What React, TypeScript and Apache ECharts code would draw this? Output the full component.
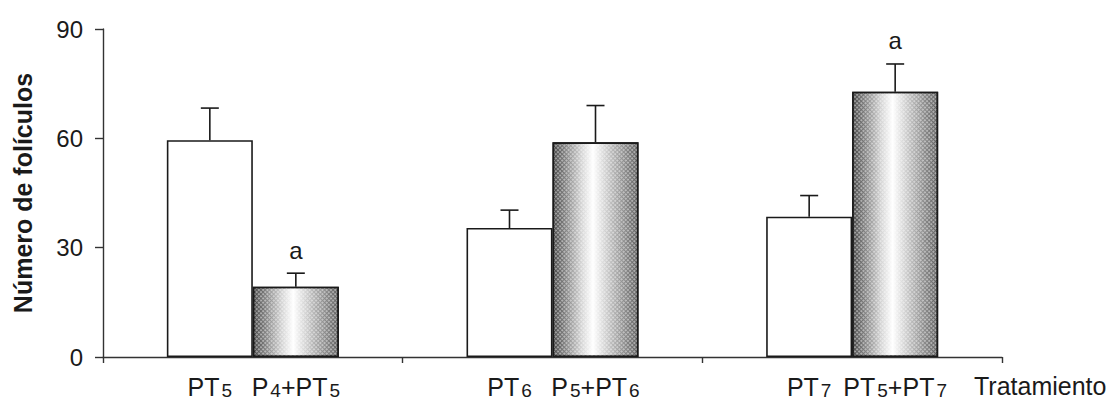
import React, { useEffect, useRef } from "react";
import * as echarts from "echarts";

// Treatment groups (one category per day of treatment)
const groups = ["d5", "d6", "d7"];
// Axis labels under each bar (rich-text subscripts)
const controlLabels = ["PT{s|5}", "PT{s|6}", "PT{s|7}"];
const treatedLabels = ["P{s|4}+PT{s|5}", "P{s|5}+PT{s|6}", "PT{s|5}+PT{s|7}"];
// Mean number of follicles and standard error
const controlMeans = [59.5, 35.4, 38.5];
const controlErrors = [8.8, 4.9, 5.8];
const treatedMeans = [19.3, 58.9, 72.8];
const treatedErrors = [3.7, 10.1, 7.6];
// Significance letters above the error bars
const controlMarks = ["", "", ""];
const treatedMarks = ["a", "", "a"];
// Y-axis range
const yMin = 0;
const yMax = 90;
const yStep = 30;

const FONT = '"Liberation Sans", Arial, Helvetica, sans-serif';
const INK = "#1a1a1a";
const BAR_W = 86;
const CAP_W = 18;

function errorSeries(means: number[], errors: number[], marks: string[], side: number) {
  return {
    type: "custom",
    z: 5,
    data: means.map((m, i) => [i, m, errors[i]]),
    renderItem: (params: any, api: any) => {
      const cat = api.value(0);
      const mean = api.value(1);
      const err = api.value(2);
      const base = api.coord([cat, mean]);
      const top = api.coord([cat, mean + err]);
      const x = base[0] + (side * BAR_W) / 2;
      const children: any[] = [
        {
          type: "line",
          shape: { x1: x, y1: base[1], x2: x, y2: top[1] },
          style: { stroke: INK, lineWidth: 1.6 },
        },
        {
          type: "line",
          shape: { x1: x - CAP_W / 2, y1: top[1], x2: x + CAP_W / 2, y2: top[1] },
          style: { stroke: INK, lineWidth: 1.6 },
        },
      ];
      const mark = marks[params.dataIndex];
      if (mark) {
        children.push({
          type: "text",
          style: {
            x,
            y: top[1] - 11,
            text: mark,
            fill: INK,
            font: `24px ${FONT}`,
            align: "center",
            verticalAlign: "bottom",
          },
        });
      }
      return { type: "group", children };
    },
  };
}

function barLabel(labels: string[]) {
  return {
    show: true,
    position: ["50%", "100%"],
    align: "center",
    verticalAlign: "top",
    offset: [0, 16],
    color: INK,
    fontSize: 25,
    lineHeight: 27,
    fontFamily: FONT,
    formatter: (p: any) => labels[p.dataIndex],
    rich: {
      s: {
        fontSize: 19,
        lineHeight: 19,
        fontFamily: FONT,
        color: INK,
        verticalAlign: "bottom",
        padding: [8, 0, 0, 2],
      },
    },
  };
}

export default function App() {
  const ref = useRef<HTMLDivElement>(null);

  useEffect(() => {
    if (!ref.current) return;
    const chart = echarts.init(ref.current, null, { renderer: "svg" });

    // Cylinder-like shading for the treated bars
    const shade = new echarts.graphic.LinearGradient(0, 0, 1, 0, [
      { offset: 0, color: "#444444" },
      { offset: 0.12, color: "#767676" },
      { offset: 0.33, color: "#d2d2d2" },
      { offset: 0.47, color: "#ffffff" },
      { offset: 0.62, color: "#d0d0d0" },
      { offset: 0.85, color: "#888888" },
      { offset: 1, color: "#5e5e5e" },
    ]);

    chart.setOption({
      animation: false,
      backgroundColor: "#ffffff",
      grid: { left: 103, right: 112, top: 29, bottom: 43, outerBoundsMode: "none", containLabel: false },
      xAxis: {
        type: "category",
        data: groups,
        name: "Tratamiento",
        nameLocation: "end",
        nameGap: -28,
        nameTextStyle: {
          color: INK,
          fontSize: 25,
          fontFamily: FONT,
          align: "left",
          verticalAlign: "top",
          lineHeight: 58,
        },
        axisLine: { lineStyle: { color: "#333", width: 1.4 } },
        axisTick: { show: true, length: 6, interval: 0, lineStyle: { color: "#333", width: 1.4 } },
        axisLabel: { show: false },
        splitLine: { show: false },
      },
      yAxis: {
        type: "value",
        min: yMin,
        max: yMax,
        interval: yStep,
        name: "Número de folículos",
        nameLocation: "middle",
        nameGap: 68,
        nameTextStyle: {
          color: INK,
          fontSize: 25,
          fontWeight: "bold",
          fontFamily: FONT,
        },
        axisLine: { show: true, lineStyle: { color: "#333", width: 1.4 } },
        axisTick: { show: true, length: 8, lineStyle: { color: "#333", width: 1.4 } },
        axisLabel: { color: INK, fontSize: 24, fontFamily: FONT, margin: 20 },
        splitLine: { show: false },
      },
      series: [
        {
          type: "bar",
          data: controlMeans,
          barWidth: BAR_W,
          barGap: "0%",
          itemStyle: { color: "#ffffff", borderColor: INK, borderWidth: 1.6 },
          label: barLabel(controlLabels),
        },
        {
          type: "bar",
          data: treatedMeans,
          barWidth: BAR_W,
          barGap: "0%",
          itemStyle: {
            color: shade,
            borderColor: INK,
            borderWidth: 1.6,
            decal: {
              symbol: "circle",
              symbolSize: 0.9,
              dashArrayX: [2, 1],
              dashArrayY: [2, 1],
              rotation: Math.PI / 4,
              color: "rgba(255,255,255,0.6)",
            },
          },
          label: barLabel(treatedLabels),
        },
        errorSeries(controlMeans, controlErrors, controlMarks, -1),
        errorSeries(treatedMeans, treatedErrors, treatedMarks, 1),
      ],
    });

    return () => chart.dispose();
  }, []);

  return (
    <div
      ref={ref}
      style={{ position: "fixed", left: 0, top: 0, width: 1114, height: 400, background: "#fff" }}
    />
  );
}
